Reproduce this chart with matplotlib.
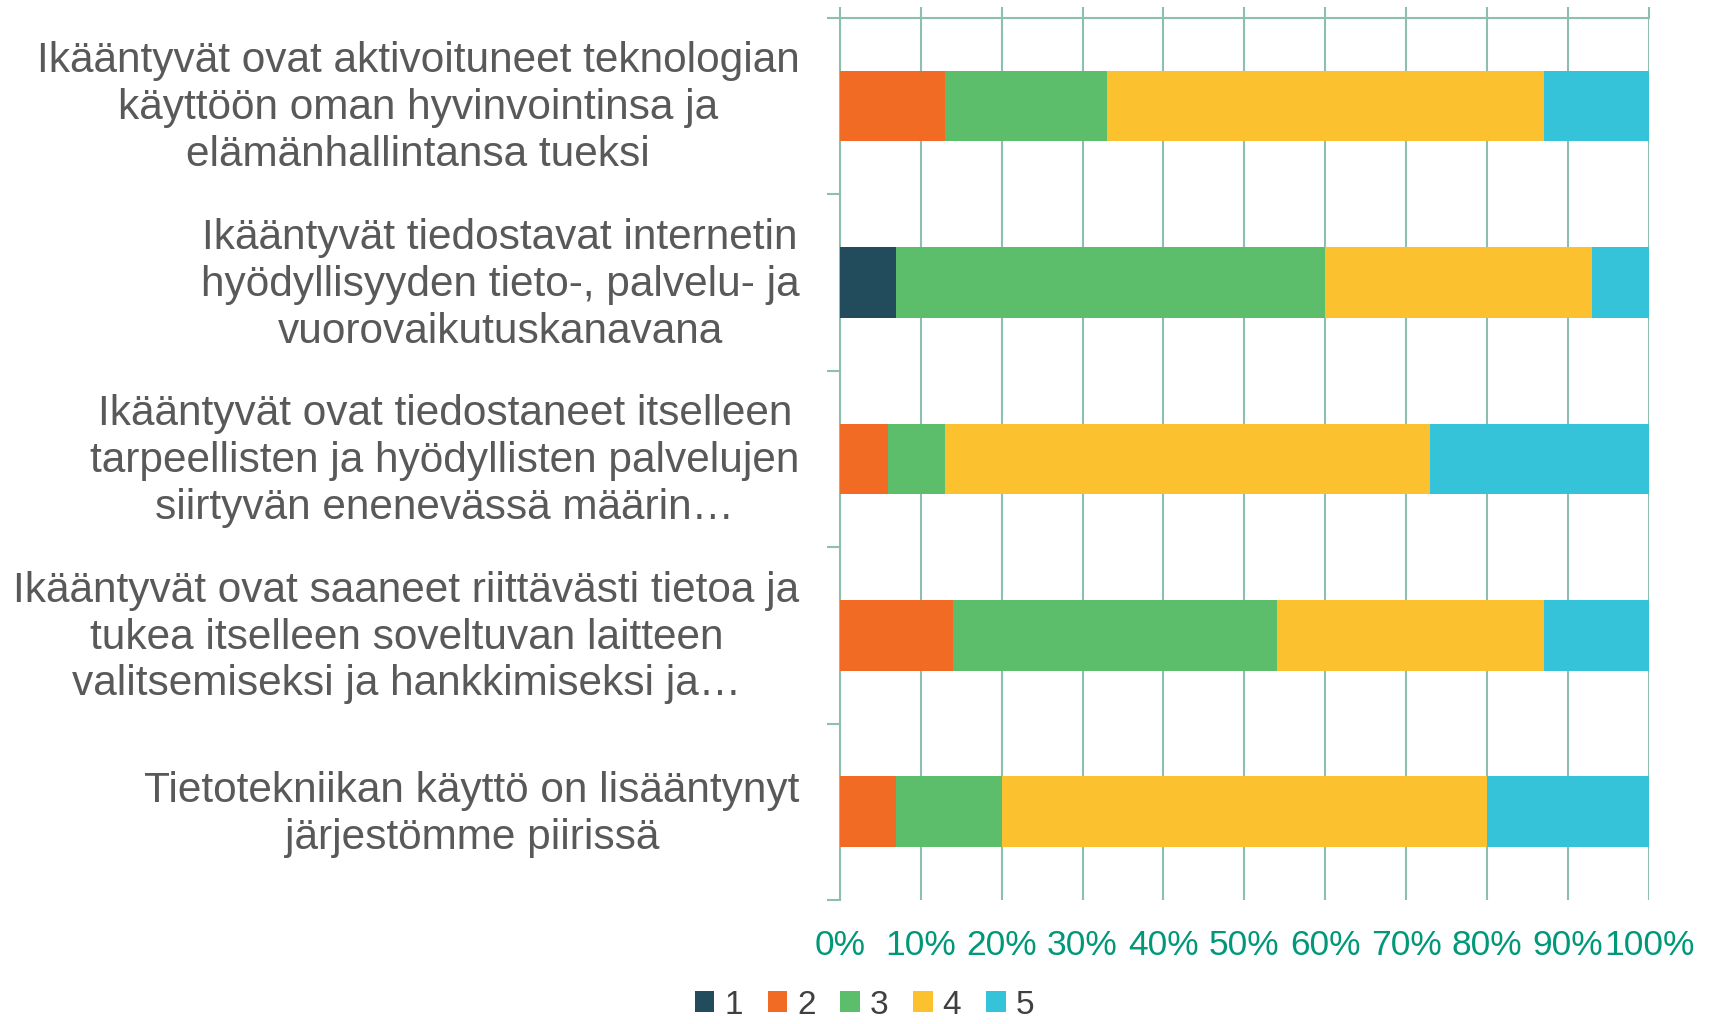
import matplotlib.pyplot as plt
import matplotlib.transforms as mtransforms
import numpy as np

plt.rcParams['font.family'] = ['Liberation Sans', 'DejaVu Sans']

categories = [
    "Ikääntyvät ovat aktivoituneet teknologian\nkäyttöön oman hyvinvointinsa ja\nelämänhallintansa tueksi",
    "Ikääntyvät tiedostavat internetin\nhyödyllisyyden tieto-, palvelu- ja\nvuorovaikutuskanavana",
    "Ikääntyvät ovat tiedostaneet itselleen\ntarpeellisten ja hyödyllisten palvelujen\nsiirtyvän enenevässä määrin…",
    "Ikääntyvät ovat saaneet riittävästi tietoa ja\ntukea itselleen soveltuvan laitteen\nvalitsemiseksi ja hankkimiseksi ja…",
    "Tietotekniikan käyttö on lisääntynyt\njärjestömme piirissä",
]
levels = ["1", "2", "3", "4", "5"]
# percentage share of each answer level per statement
level1 = [0, 7, 0, 0, 0]
level2 = [13, 0, 6, 14, 7]
level3 = [20, 53, 7, 40, 13]
level4 = [54, 33, 60, 33, 60]
level5 = [13, 7, 27, 13, 20]
colors = ["#224C5C", "#F26B24", "#5CBD6A", "#FCC12F", "#35C3D9"]

grid_col = "#8DBFAE"

fig = plt.figure(figsize=(17.12, 10.24), dpi=100)
ax = fig.add_axes([0.4905, 0.1211, 0.4727, 0.8616])

y = np.arange(len(categories))
left = np.zeros(len(categories))
for name, vals, col in zip(levels, [level1, level2, level3, level4, level5], colors):
    ax.barh(y, vals, left=left, height=0.4, color=col, label=name, zorder=3)
    left += np.array(vals)

ax.set_xlim(0, 100)
ax.set_ylim(len(categories) - 0.5, -0.5)

ax.set_xticks(np.arange(0, 101, 10))
ax.set_xticklabels([f"{v}%" for v in range(0, 101, 10)])
ax.xaxis.grid(True, color=grid_col, linewidth=1.5, zorder=0)
ax.tick_params(axis='x', top=True, bottom=False, labeltop=False, labelbottom=True,
               direction='out', length=8, width=1.5, color=grid_col,
               labelsize=25.5, labelcolor="#009879", pad=13)

ax.set_yticks(y)
ax.set_yticklabels(categories, fontsize=30.5, color="#595959", ha='right',
                   multialignment='center', linespacing=1.22)
ax.set_yticks(np.arange(-0.5, len(categories)), minor=True)
ax.tick_params(axis='y', which='major', length=0, pad=29)
ax.tick_params(axis='y', which='minor', length=9.5, width=1.5, color=grid_col, direction='out')

# nudge category labels up a little
shift = mtransforms.ScaledTranslation(0, 4 / 72, fig.dpi_scale_trans)
for lab in ax.get_yticklabels():
    lab.set_transform(lab.get_transform() + shift)

for side in ['right', 'bottom']:
    ax.spines[side].set_visible(False)
for side in ['left', 'top']:
    ax.spines[side].set_color(grid_col)
    ax.spines[side].set_linewidth(1.5)

fig.legend(loc='center', bbox_to_anchor=(0.505, 0.0185), ncol=5, frameon=False,
           fontsize=24, handlelength=0.58, handleheight=0.58, handletextpad=0.3,
           columnspacing=0.75, labelcolor="#404040")

fig.savefig("out.png", dpi=100)
